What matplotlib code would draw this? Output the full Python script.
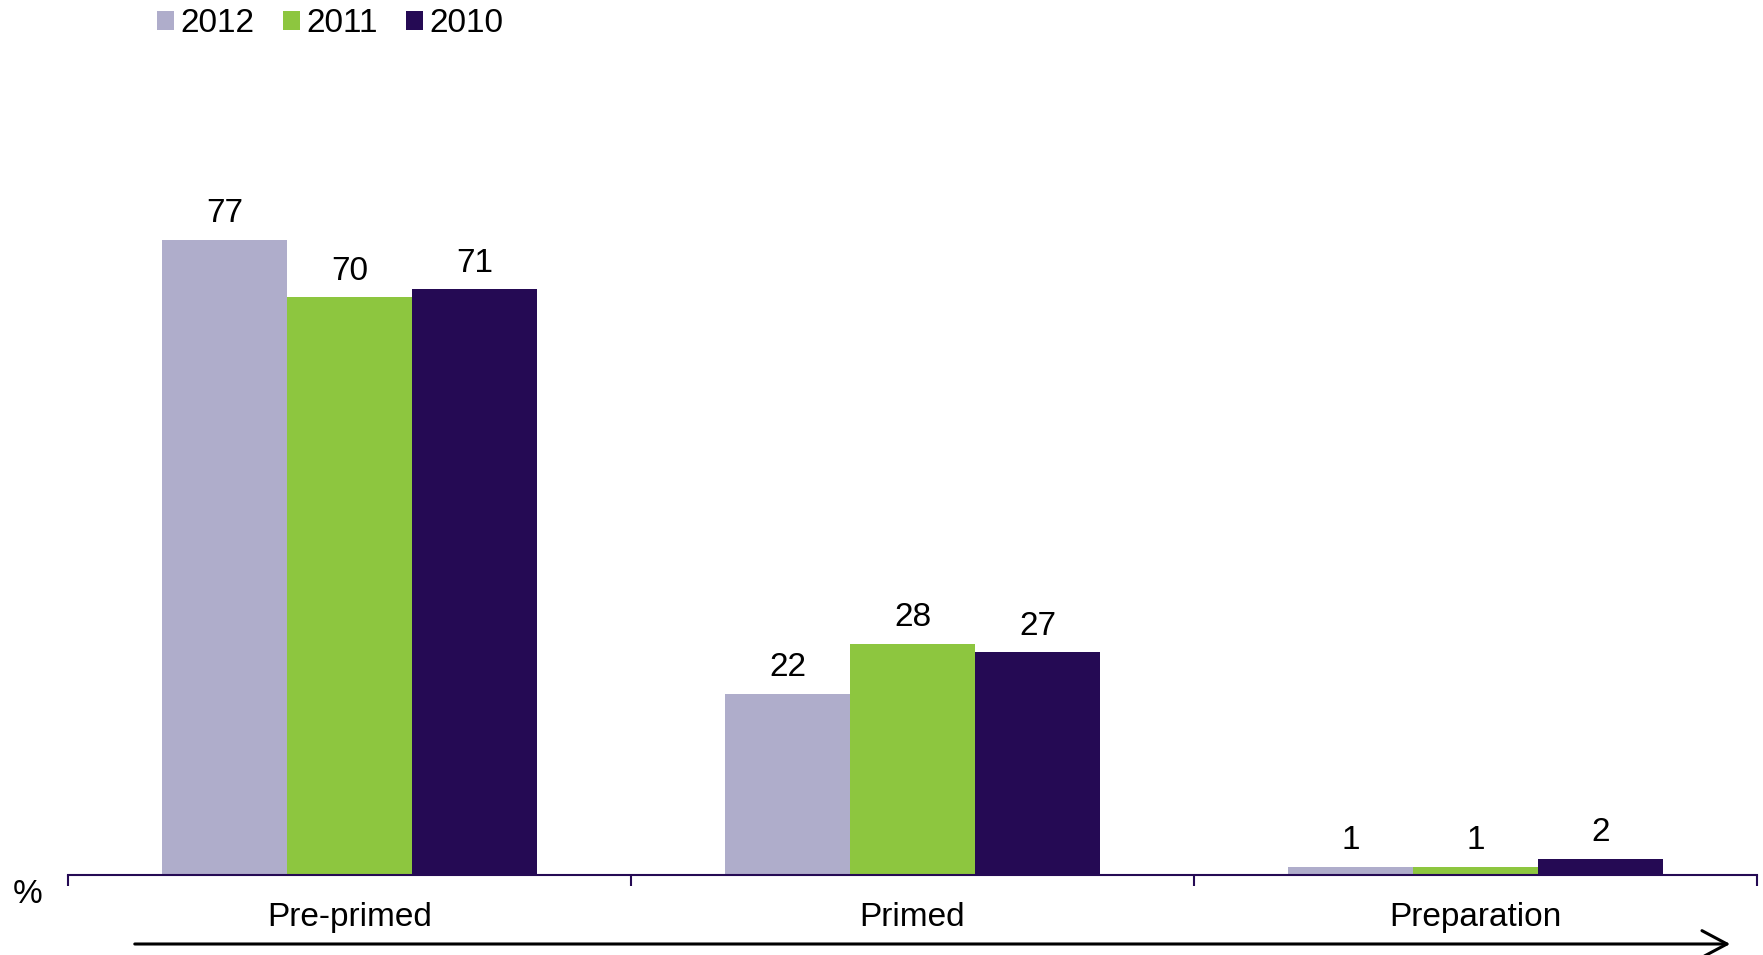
import matplotlib.pyplot as plt
from matplotlib.patches import Patch, FancyArrowPatch
import numpy as np

plt.rcParams['font.family'] = ['Liberation Sans', 'DejaVu Sans']

stages = ["Pre-primed", "Primed", "Preparation"]
years = ["2012", "2011", "2010"]
v2012 = [77, 22, 1]
v2011 = [70, 28, 1]
v2010 = [71, 27, 2]
colours = ["#AFADCB", "#8DC63F", "#250A54"]

W, H = 1763, 955
fs = 24
fig = plt.figure(figsize=(W / 100, H / 100), dpi=100)
ax = fig.add_axes([68 / W, 80 / H, 1689 / W, 742.5 / H])

x = np.arange(len(stages))
bw = 0.222
for i, (vals, col) in enumerate(zip([v2012, v2011, v2010], colours)):
    pos = x + (i - 1) * bw
    bars = ax.bar(pos, vals, bw, color=col)
    for b, v in zip(bars, vals):
        ax.text(b.get_x() + bw / 2, v + 1.3, str(v), ha="center", va="bottom", fontsize=fs)

ax.set_xlim(-0.5, 2.5)
ax.set_ylim(0, 90)
for s in ["top", "right", "left"]:
    ax.spines[s].set_visible(False)
ax.spines["bottom"].set_color("#250A54")
ax.spines["bottom"].set_linewidth(1.5)
ax.set_yticks([])
ax.set_xticks([-0.5, 0.5, 1.5, 2.5])
ax.set_xticklabels([])
ax.tick_params(axis="x", direction="out", length=8, width=1.5, color="#250A54")
for xi, name in zip(x, stages):
    ax.text(xi, -3.3, name, ha="center", va="top", fontsize=fs)

fig.text(28 / W, 1 - 894 / H, "%", ha="center", va="center", fontsize=fs)

# arrow under the stage labels
fig.patches.append(FancyArrowPatch(
    (132 / W, 1 - 944 / H), (1733 / W, 1 - 944 / H), transform=fig.transFigure,
    arrowstyle="->,head_length=0.6,head_width=0.32", mutation_scale=30,
    lw=2.2, color="black"))

handles = [Patch(facecolor=c, edgecolor="none") for c in colours]
fig.legend(handles, years, loc="upper left", bbox_to_anchor=(134 / W, 1 + 15 / H), ncol=3,
           frameon=False, fontsize=fs, handlelength=0.5, handleheight=0.5,
           handletextpad=0.2, columnspacing=0.85, borderpad=0.2)

fig.savefig("out.png", dpi=100)
